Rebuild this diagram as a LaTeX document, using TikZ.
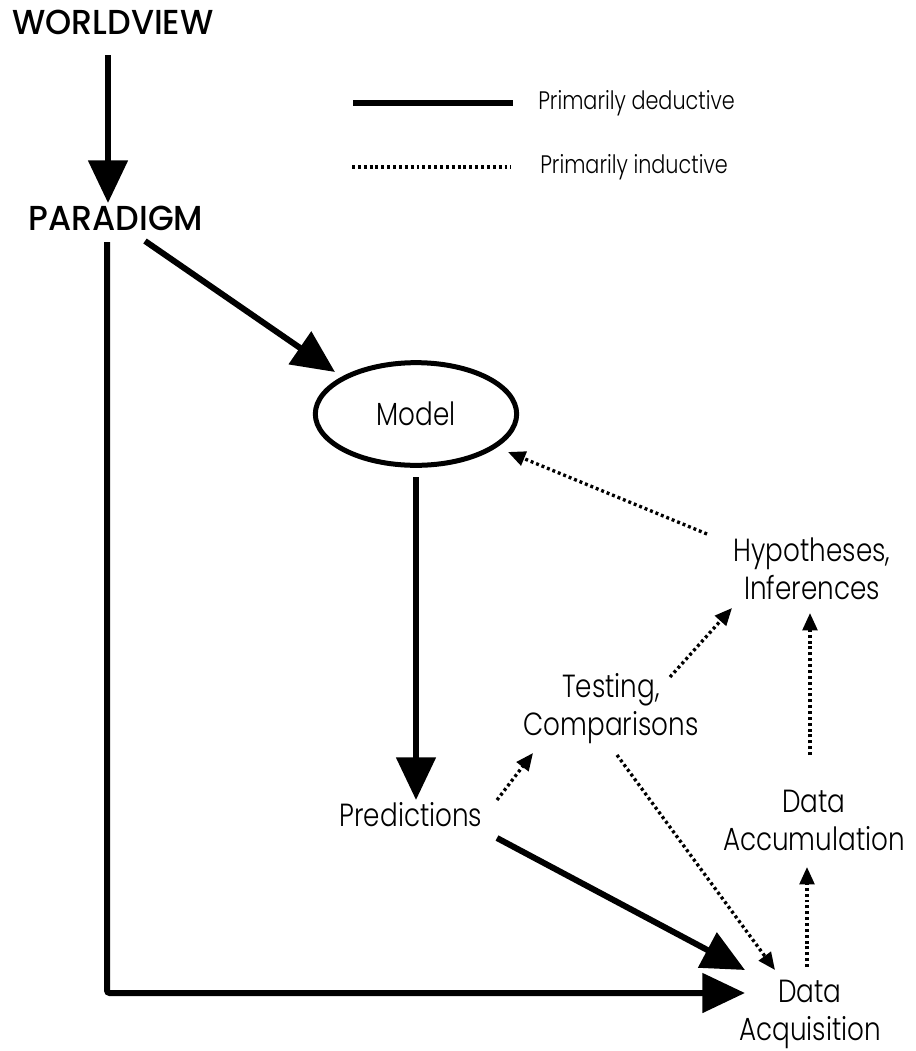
\documentclass[tikz,border=0pt]{standalone}
\usepackage{fontspec}
\newfontfamily\lightf{Poppins Light}[FakeStretch=0.82]
\newfontfamily\medf{Poppins Medium}[FakeStretch=0.96]
\usetikzlibrary{arrows.meta,shapes.geometric,calc}
\begin{document}
\begin{tikzpicture}[x=0.75pt,y=-0.75pt,
  ded/.style={line width=4.5pt,-{Triangle[length=32pt,width=29pt]}},
  ind/.style={line width=2.5pt,dash pattern=on 2.2pt off 2.2pt,-{Triangle[length=13pt,width=11pt]}},
  lbl/.style={font=\lightf\fontsize{24}{28.5}\selectfont,align=center,inner sep=0pt},
  head/.style={font=\medf\fontsize{26}{30}\selectfont,inner sep=0pt},
  leg/.style={font=\lightf\fontsize{19}{22}\selectfont,inner sep=0pt,anchor=west},
  modelbox/.style={ellipse,draw,line width=3.75pt,minimum width=151pt,minimum height=77pt,inner sep=0pt}]
\useasboundingbox (0,0) rectangle (916,1051);
\fill[white] (0,0) rectangle (916,1051);
% nodes
\node[head] (wv) at (113,22) {WORLDVIEW};
\node[head] (pd) at (116,218) {PARADIGM};
\node[modelbox,font=\lightf\fontsize{24}{28.5}\selectfont] (model) at (416,414) {Model};
\node[lbl] (pred) at (411,815) {Predictions};
\node[lbl] (test) at (611,709) {Testing,\\Comparisons};
\node[lbl] (hyp) at (812,569) {Hypotheses,\\Inferences};
\node[lbl] (accum) at (814,820) {Data\\Accumulation};
\node[lbl] (acq) at (810,1014) {Data\\Acquisition};
% legend
\coordinate (la) at (353,103);
\coordinate (lb) at (513,103);
\coordinate (lc) at (352,167);
\coordinate (ld) at (511,167);
\draw[line width=5pt] (la) -- (lb);
\draw[line width=2.5pt,dash pattern=on 2.2pt off 2.2pt] (lc) -- (ld);
\node[leg] (ldt) at (538,103) {Primarily deductive};
\node[leg] (lit) at (540,167) {Primarily inductive};
% deductive connectors
\draw[ded] ($(wv.center)+(-5,33)$) -- ($(pd.center)+(-8,-15)$);
\draw[ded] ($(pd.center)+(29,23)$) -- ($(model.center)+(-81,-42)$);
\draw[ded,rounded corners=2pt] ($(pd.center)+(-9,24)$) |- ($(acq.center)+(-65,-21)$);
\draw[ded] ($(model.center)+(0,63)$) -- ($(pred.center)+(5,-15)$);
\draw[ded] ($(pred.center)+(86,23)$) -- ($(acq.center)+(-65,-44)$);
% inductive connectors
\draw[ind] ($(pred.center)+(86,-15)$) -- ($(test.center)+(-78,44)$);
\draw[ind] ($(test.center)+(6,46)$) -- ($(acq.center)+(-35,-44)$);
\draw[ind] ($(test.center)+(59,-32)$) -- ($(hyp.center)+(-80,39)$);
\draw[ind] ($(accum.center)+(-4,-65)$) -- ($(hyp.center)+(-2,44)$);
\draw[ind] ($(acq.center)+(-3,-47)$) -- ($(accum.center)+(-7,47)$);
\draw[ind] ($(hyp.center)+(-105,-35)$) -- ($(model.center)+(92,38)$);
\end{tikzpicture}
\end{document}
